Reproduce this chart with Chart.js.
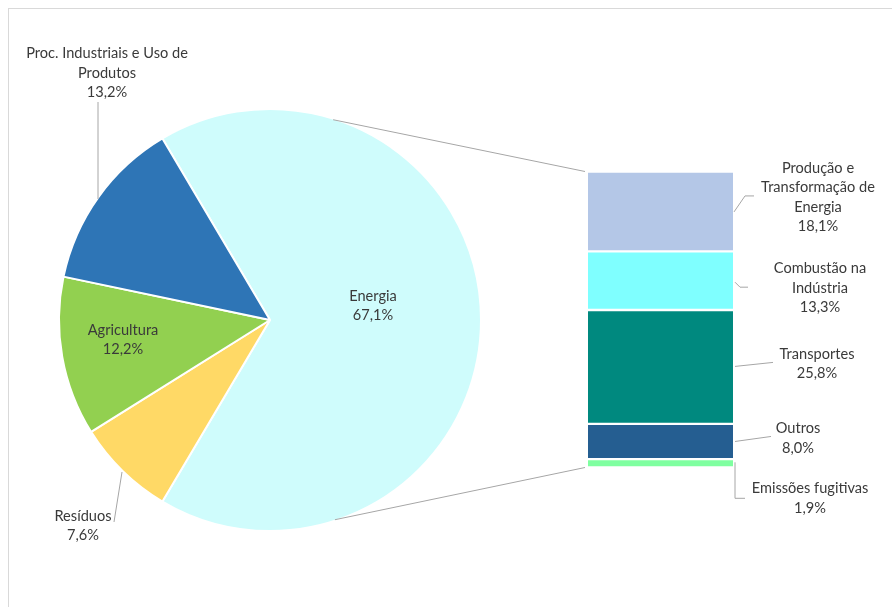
<!DOCTYPE html>
<html>
<head>
<meta charset="utf-8">
<style>
  html, body { margin: 0; padding: 0; background: #fff; }
  #wrap { position: relative; width: 892px; height: 607px; overflow: hidden; background: #fff; }
  #frame { position: absolute; left: 8px; top: 8px; width: 1000px; height: 1000px; border: 1px solid #d9d9d9; box-sizing: border-box; }
  canvas { position: absolute; left: 0; top: 0; }
</style>
</head>
<body>
<div id="wrap">
  <div id="frame"></div>
  <canvas id="pie" width="892" height="607"></canvas>
  <canvas id="bar" width="892" height="607"></canvas>
</div>
<script src="https://cdn.jsdelivr.net/npm/chart.js@4.4.0/dist/chart.umd.min.js"></script>
<script>
// --- data ---
const pieLabels = [['Energia'], ['Resíduos'], ['Agricultura'], ['Proc. Industriais e Uso de', 'Produtos']];
const pieValues = [67.1, 7.6, 12.2, 13.2];
const pieColors = ['#CFFCFC', '#FFD966', '#92D050', '#2E75B6'];

const barLabels = [['Produção e', 'Transformação de', 'Energia'], ['Combustão na', 'Indústria'], ['Transportes'], ['Outros'], ['Emissões fugitivas']];
const barValues = [18.1, 13.3, 25.8, 8.0, 1.9];
const barColors = ['#B4C7E7', '#7FFFFF', '#00897F', '#255E91', '#7FFFA0'];

// --- style ---
const FONT = '14.6px Lato';
const TEXT = '#3a3a3a';
const LEADER = '#A6A6A6';
const LINE_H = 19.5;

// label block centre + optional leader, relative to pie centre
const pieLabelPos = [
  { dx: 103, dy: -14 },
  { dx: -187, dy: 206, leader: [[-156, 202], [-148, 152]] },
  { dx: -147, dy: 20 },
  { dx: -163, dy: -247, leader: [[-172, -218], [-172, -121]] }
];
// relative to the right edge / middle of each bar segment
const barLabelPos = [
  { dx: 85, dy: -14, leader: [[1, 0.5], [12, -15.5], [21, -15.5]] },
  { dx: 87, dy: 7.5, leader: [[2, 1.5], [7, 6.5], [15, 6.5]] },
  { dx: 84, dy: -3, leader: [[2, -0.5], [40, -4.5]] },
  { dx: 65, dy: -3, leader: [[2, 0], [38, -5]] },
  { dx: 77, dy: 35, leader: [[2, -1], [2, 35], [12, 35]] }
];
const connectorAngles = [-72.5, 72];

function pct(v) {
  return v.toFixed(1).replace('.', ',') + '%';
}

function drawBlock(ctx, lines, cx, cy) {
  ctx.save();
  ctx.font = FONT;
  ctx.fillStyle = TEXT;
  ctx.textAlign = 'center';
  ctx.textBaseline = 'middle';
  const top = cy - (lines.length - 1) * LINE_H / 2;
  lines.forEach((t, i) => ctx.fillText(t, cx, top + i * LINE_H));
  ctx.restore();
}

function drawLeader(ctx, pts, ox, oy) {
  ctx.save();
  ctx.strokeStyle = LEADER;
  ctx.lineWidth = 1;
  ctx.beginPath();
  pts.forEach((p, i) => {
    if (i === 0) ctx.moveTo(ox + p[0], oy + p[1]);
    else ctx.lineTo(ox + p[0], oy + p[1]);
  });
  ctx.stroke();
  ctx.restore();
}

const pieTotal = pieValues.reduce((a, b) => a + b, 0);
const energyFrac = pieValues[0] / pieTotal;

const pieLabelPlugin = {
  id: 'pieLabels',
  afterDraw(chart) {
    const ctx = chart.ctx;
    const arc = chart.getDatasetMeta(0).data[0];
    pieValues.forEach((v, i) => {
      const p = pieLabelPos[i];
      if (p.leader) drawLeader(ctx, p.leader, arc.x, arc.y);
      drawBlock(ctx, pieLabels[i].concat([pct(v)]), arc.x + p.dx, arc.y + p.dy);
    });
  }
};

const pieChart = new Chart(document.getElementById('pie'), {
  type: 'pie',
  data: {
    labels: pieLabels.map(l => l.join(' ')),
    datasets: [{
      data: pieValues,
      backgroundColor: pieColors,
      borderColor: '#ffffff',
      borderWidth: 2,
      hoverOffset: 0
    }]
  },
  options: {
    responsive: false,
    animation: false,
    events: [],
    rotation: 90 - energyFrac * 180,
    radius: 211,
    layout: { padding: { left: 59, right: 411, top: 109, bottom: 76 } },
    plugins: { legend: { display: false }, tooltip: { enabled: false } }
  },
  plugins: [pieLabelPlugin]
});

const barTotal = barValues.reduce((a, b) => a + b, 0);

const barLabelPlugin = {
  id: 'barLabels',
  afterDraw(chart) {
    const ctx = chart.ctx;
    const area = chart.chartArea;
    // lines from the pie to the bar
    const arc = pieChart.getDatasetMeta(0).data[0];
    const R = arc.outerRadius - 1;
    const ends = [[area.left - 3, area.top], [area.left - 3, area.bottom]];
    connectorAngles.forEach((a, i) => {
      const r = a * Math.PI / 180;
      ctx.save();
      ctx.strokeStyle = LEADER;
      ctx.lineWidth = 1;
      ctx.beginPath();
      ctx.moveTo(arc.x + R * Math.cos(r), arc.y + R * Math.sin(r));
      ctx.lineTo(ends[i][0], ends[i][1]);
      ctx.stroke();
      ctx.restore();
    });
    barValues.forEach((v, i) => {
      const bar = chart.getDatasetMeta(i).data[0];
      const ax = bar.x + bar.width / 2;
      const ay = (bar.y + bar.base) / 2;
      const p = barLabelPos[i];
      drawLeader(ctx, p.leader, ax, ay);
      drawBlock(ctx, barLabels[i].concat([pct(v)]), ax + p.dx, ay + p.dy);
    });
  }
};

new Chart(document.getElementById('bar'), {
  type: 'bar',
  data: {
    labels: [''],
    datasets: barValues.map((v, i) => ({
      label: barLabels[i].join(' '),
      data: [v],
      backgroundColor: barColors[i],
      borderColor: '#ffffff',
      borderWidth: { top: 1.5, bottom: 1.5, left: 0, right: 0 },
      borderSkipped: false,
      barPercentage: 1,
      categoryPercentage: 1
    }))
  },
  options: {
    responsive: false,
    animation: false,
    events: [],
    layout: { padding: { left: 588, right: 159, top: 171.5, bottom: 139.5 } },
    scales: {
      x: { display: false, stacked: true },
      y: { display: false, stacked: true, reverse: true, min: 0, max: barTotal }
    },
    plugins: { legend: { display: false }, tooltip: { enabled: false } }
  },
  plugins: [barLabelPlugin]
});
</script>
</body>
</html>
